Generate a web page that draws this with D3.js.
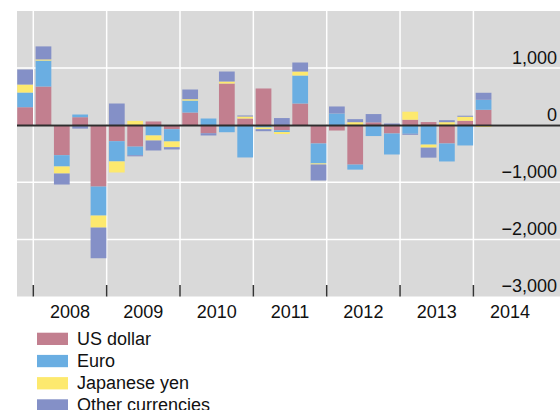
<!DOCTYPE html>
<html>
<head>
<meta charset="utf-8">
<script src="https://cdn.jsdelivr.net/npm/d3@7"></script>
<style>
  body { margin: 0; background: #fff; }
  svg { display: block; }
  text { font-family: "Liberation Sans", Arial, sans-serif; fill: #111; }
</style>
</head>
<body>
<div id="chart"></div>
<script>
// quarterly values by currency
const quarters = [
  "2007 Q4",
  "2008 Q1", "2008 Q2", "2008 Q3", "2008 Q4",
  "2009 Q1", "2009 Q2", "2009 Q3", "2009 Q4",
  "2010 Q1", "2010 Q2", "2010 Q3", "2010 Q4",
  "2011 Q1", "2011 Q2", "2011 Q3", "2011 Q4",
  "2012 Q1", "2012 Q2", "2012 Q3", "2012 Q4",
  "2013 Q1", "2013 Q2", "2013 Q3", "2013 Q4",
  "2014 Q1"
];
const usDollar = [315, 677, -525, 140, -1075, -280, -375, 65, -70, 222, -140, 730, 117,
  643, -90, 380, -320, -93, -690, 50, -145, 96, 55, -320, 78, 270];
const euro = [257, 455, -198, 47, -508, -355, -150, -180, -215, 210, 117, -123, -565,
  -40, -30, 490, -350, 205, -88, -190, -368, -150, -340, -315, -355, 175];
const japaneseYen = [140, 20, -123, 0, -210, -193, 75, -88, -100, 23, 0, 35, 35,
  -30, -35, 70, -18, 0, 53, 0, 0, 140, -53, 53, 70, -30];
const otherCurrencies = [263, 228, -193, -60, -537, 380, -20, -175, -40, 170, -40, 175, 18,
  -35, 125, 158, -280, 123, 53, 145, 30, -18, -175, 35, 18, 123];

const seriesNames = ["US dollar", "Euro", "Japanese yen", "Other currencies"];
const seriesColors = ["#c27f8f", "#6aaee2", "#fde96e", "#8490c7"];
const yearLabels = [2008, 2009, 2010, 2011, 2012, 2013, 2014];
const yTickValues = [1000, 0, -1000, -2000, -3000];

const width = 560;
const height = 410;
const plot = { left: 17, right: 560, top: 11, bottom: 296.5 };

const rows = quarters.map((q, i) => {
  const [yr, qq] = q.split(" Q");
  return {
    t: +yr + (+qq - 1) / 4,
    "US dollar": usDollar[i],
    "Euro": euro[i],
    "Japanese yen": japaneseYen[i],
    "Other currencies": otherCurrencies[i]
  };
});

const svg = d3.select("#chart")
  .append("svg")
  .attr("width", width)
  .attr("height", height);

// fractional years on x
const xScale = d3.scaleLinear()
  .domain([2008, 2014])
  .range([33.3, 473.4]);

const yScale = d3.scaleLinear()
  .domain([-3000, 2000])
  .range([plot.bottom, plot.top]);

const color = d3.scaleOrdinal().domain(seriesNames).range(seriesColors);

svg.append("rect")
  .attr("x", plot.left)
  .attr("y", plot.top)
  .attr("width", plot.right - plot.left)
  .attr("height", plot.bottom - plot.top)
  .attr("fill", "#d9d9d9");

// grid
svg.append("g")
  .selectAll("line")
  .data(yearLabels)
  .join("line")
  .attr("x1", d => xScale(d))
  .attr("x2", d => xScale(d))
  .attr("y1", plot.top)
  .attr("y2", plot.bottom)
  .attr("stroke", "#fff")
  .attr("stroke-width", 1.5);

svg.append("g")
  .selectAll("line")
  .data(yTickValues.filter(d => d > -3000))
  .join("line")
  .attr("x1", plot.left)
  .attr("x2", plot.right)
  .attr("y1", d => yScale(d))
  .attr("y2", d => yScale(d))
  .attr("stroke", "#fff")
  .attr("stroke-width", 1.5);

// bars
const stacked = d3.stack()
  .keys(seriesNames)
  .offset(d3.stackOffsetDiverging)(rows);

const barOffset = 2.3;
const barWidth = xScale(2008.25) - xScale(2008) - barOffset - 0.3;

svg.append("g")
  .selectAll("g")
  .data(stacked)
  .join("g")
  .attr("fill", d => color(d.key))
  .selectAll("rect")
  .data(d => d)
  .join("rect")
  .attr("x", d => xScale(d.data.t) + barOffset)
  .attr("y", d => yScale(Math.max(d[0], d[1])))
  .attr("width", barWidth)
  .attr("height", d => Math.abs(yScale(d[0]) - yScale(d[1])));

// zero line
svg.append("line")
  .attr("x1", plot.left)
  .attr("x2", plot.right)
  .attr("y1", yScale(0) + 0.3)
  .attr("y2", yScale(0) + 0.3)
  .attr("stroke", "#2e2e2e")
  .attr("stroke-width", 2);

// year ticks at bottom
svg.append("g")
  .selectAll("line")
  .data(yearLabels)
  .join("line")
  .attr("x1", d => xScale(d))
  .attr("x2", d => xScale(d))
  .attr("y1", plot.bottom - 11.5)
  .attr("y2", plot.bottom)
  .attr("stroke", "#333")
  .attr("stroke-width", 1.5);

svg.append("g")
  .selectAll("text")
  .data(yearLabels)
  .join("text")
  .attr("x", d => xScale(d + 0.5))
  .attr("y", 318)
  .attr("text-anchor", "middle")
  .style("font-size", "18px")
  .text(d => d);

// y labels sit inside the plot on the right
svg.append("g")
  .selectAll("text")
  .data(yTickValues)
  .join("text")
  .attr("x", 557)
  .attr("y", d => yScale(d) - 4.3)
  .attr("text-anchor", "end")
  .style("font-size", "18px")
  .text(d => d3.format(",")(d));

// legend
const legend = svg.append("g")
  .attr("transform", "translate(37, 332.7)");

const item = legend.selectAll("g")
  .data(seriesNames)
  .join("g")
  .attr("transform", (d, i) => `translate(0, ${i * 22.2})`);

item.append("rect")
  .attr("width", 31)
  .attr("height", 12.3)
  .attr("fill", d => color(d));

item.append("text")
  .attr("x", 40)
  .attr("y", 11.8)
  .style("font-size", "18px")
  .text(d => d);
</script>
</body>
</html>
